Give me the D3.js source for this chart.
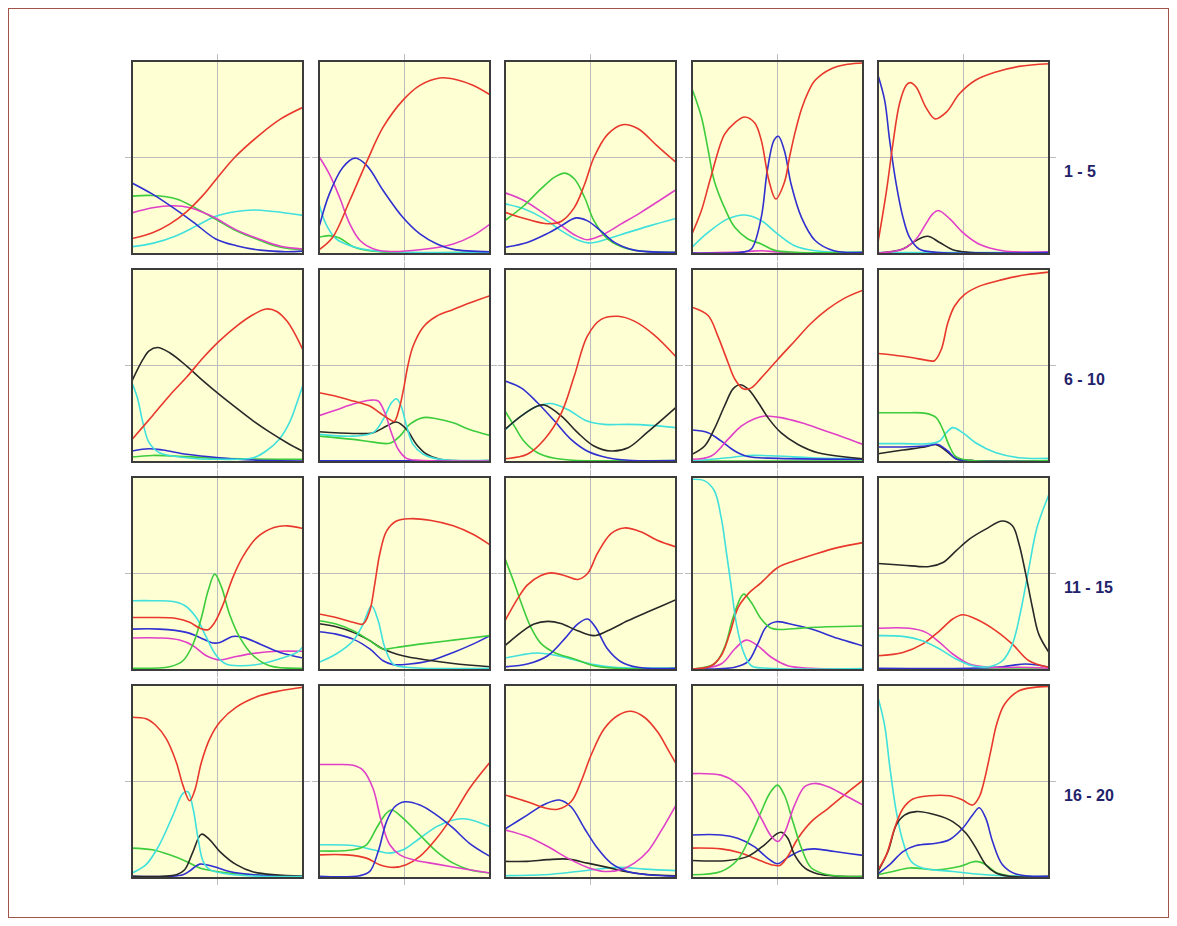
<!DOCTYPE html>
<html>
<head>
<meta charset="utf-8">
<script src="https://cdn.jsdelivr.net/npm/d3@7"></script>
<style>
  html, body { margin: 0; padding: 0; background: #ffffff; }
  svg { display: block; }
</style>
</head>
<body>
<svg id="chart" width="1177" height="926"></svg>
<script>
// Series colours, keyed by name
const seriesNames  = ["red", "green", "blue", "magenta", "cyan", "black"];
const seriesColors = ["#e8382c", "#3ccc3c", "#3030d0", "#e040c8", "#40e0dc", "#282828"];

// Row labels on the right
const rowLabels = ["1 - 5", "6 - 10", "11 - 15", "16 - 20"];

// Each panel: list of [series, [[x, y], ...]] with x and y on a 0..100 scale
const panel01 = [
  ["cyan",    [[0,3.8],[12,5.5],[26,9.5],[38,14.7],[49,19.5],[61,22],[71,22.8],[83,22],[100,20]]],
  ["green",   [[0,30],[12,30.3],[26,28.5],[38,23.4],[49,18],[61,12],[75,7],[87,3.5],[100,2.2]]],
  ["magenta", [[0,21.3],[12,24],[24,25],[34,24],[43.5,20.8],[49,18.5],[61,12.5],[75,7.5],[87,4],[100,2.6]]],
  ["blue",    [[0,36.8],[12,31],[24,24],[36,16.4],[49,7.8],[61,4.3],[75,2],[90,1.2],[100,1.5]]],
  ["red",     [[0,8],[12,11],[22,15.5],[32,22],[41.6,30.5],[49,38.5],[60,50],[75,62],[87,70],[100,76]]]
];
const panel02 = [
  ["green",   [[0,8.7],[6,9.5],[12,8.3],[20,3.8],[32,1.4],[100,1]]],
  ["cyan",    [[0,26],[4,15.6],[10,7.8],[20,3.8],[32,1.7],[100,0.9]]],
  ["magenta", [[0,50.5],[6,41.5],[12,29.4],[18,15.6],[24,7],[32,2.6],[39.5,1.4],[59,2.2],[78.5,5.2],[90,9.5],[100,15.5]]],
  ["blue",    [[0,13.8],[6,31],[14,45],[21,49.7],[28,45.8],[37.5,32.9],[49,19],[59,10.4],[69,5.2],[78.5,2.4],[100,1.2]]],
  ["red",     [[0,2.2],[8,8.7],[18,27.7],[28,48],[37.5,65.7],[49,79.6],[59,87.4],[70.7,91.2],[80.5,90.3],[90,87.4],[100,82.5]]]
];
const panel03 = [
  ["cyan",    [[0,26],[11,23.4],[23,18.2],[33,12],[42.5,7.3],[50,5.7],[60,7.8],[72,11.2],[85,14.7],[100,18.4]]],
  ["magenta", [[0,31.7],[11,27.7],[23,20.8],[33,14.7],[40.5,10],[48,7.4],[56,9.5],[68,15.6],[79.5,21.6],[100,33.3]]],
  ["green",   [[0,17.3],[11,25],[21,33.7],[29,39.8],[35,41.9],[40.5,39],[46.5,29.4],[52,17.3],[60,7.8],[72,2.6],[100,0.9]]],
  ["blue",    [[0,3.5],[13,6],[25,10.7],[33,14.7],[41.5,18.7],[48,17.3],[56,12],[64,6],[75.6,2],[100,0.9]]],
  ["red",     [[0,21.6],[13,18],[25,15.7],[33,17],[40.5,24],[46.5,36],[52,50],[60,62],[68.8,67],[77.6,65],[89,56],[100,47.5]]]
];
const panel04 = [
  ["magenta", [[0,0.5],[30.8,1.2],[40.5,1.7],[52,0.9],[100,0.5]]],
  ["cyan",    [[0,3.5],[9.4,11.2],[21,18.2],[30.8,20.2],[40.5,17.3],[50,10.4],[60,4.3],[72,1.7],[100,0.9]]],
  ["green",   [[0,85.6],[5.5,71],[9.4,54],[13,38],[19,24],[25,13.8],[32.7,7.8],[40.5,5.2],[48,2],[60,0.9],[100,0.9]]],
  ["blue",    [[0,0.5],[29,0.9],[34.7,2.6],[40.5,19],[44,43],[48,59],[50.5,61],[54,53.6],[58,36],[64,19],[72,7],[83,1.7],[100,0.9]]],
  ["red",     [[0,10.4],[5.5,22.5],[11,39.8],[19,62],[25,68],[30.8,71],[36.6,68],[40.5,59],[45,38],[49,28.5],[54,37],[57,50],[60,62],[64,75],[68,84],[72,90],[81.5,96],[91,98.3],[100,99]]]
];
const panel05 = [
  ["green",   [[0,0.4],[100,0.4]]],
  ["cyan",    [[0,0.8],[100,0.8]]],
  ["black",   [[0,0.5],[14.6,2.6],[22.3,7],[29,9.2],[36,6],[43.7,2.2],[53,0.9],[100,0.5]]],
  ["magenta", [[0,0.5],[14.6,2.6],[22.3,7.8],[28,15.6],[32,20.8],[35.3,22.5],[42,18.2],[49.5,11.2],[59,5.2],[73,1.7],[100,1.2]]],
  ["blue",    [[0,92.6],[3.9,79.6],[6.8,59],[10.7,36],[14.6,19],[18.4,8.7],[24,2.6],[34,0.9],[100,0.7]]],
  ["red",     [[0,6],[5,33],[8.7,57],[12.6,78],[16.5,87.4],[18.8,88.8],[22.3,86.5],[28,76],[33.4,70],[40,73.5],[47.6,83],[57,90],[69,94.3],[82.5,97.2],[100,98.6]]]
];
const panel06 = [
  ["green",   [[0,2.6],[12,3.4],[32,2.8],[51,1.9],[100,1.4]]],
  ["blue",    [[0,5.7],[10,6.9],[18,6.2],[32,4],[51,2.2],[71,1],[100,0.5]]],
  ["cyan",    [[0,41],[3.3,32.8],[6.3,20.7],[10,10],[16,4.8],[32,2.2],[51,1.4],[71,2.2],[78.4,5.7],[86,11.7],[92,20.3],[96,29.5],[100,40]]],
  ["black",   [[0,42],[6.3,53],[10,57.6],[15,59.3],[22,56.6],[32,49.7],[41.6,42],[51,35],[61,28],[71,21.2],[81,15.2],[90.6,10],[100,5.5]]],
  ["red",     [[0,11.7],[12,24],[22,34.5],[32,44],[41.6,54],[51,62.6],[61,70.3],[71,76.4],[78.4,79.3],[84.7,78],[90.6,73],[95.5,66],[100,58]]]
];
const panel07 = [
  ["blue",    [[0,0.6],[100,0.6]]],
  ["green",   [[0,13.4],[20,11.7],[31.6,10.3],[41.4,9.7],[47.3,13.4],[53,19.5],[61,23],[68.7,22.4],[78.5,20.3],[88,16.9],[100,13.8]]],
  ["black",   [[0,15.7],[20,14.8],[31.6,15.2],[39.5,18.6],[45.3,20.7],[51.2,16.9],[57,9.1],[63,4],[70.7,1.4],[100,0.7]]],
  ["cyan",    [[0,14.3],[20,13.4],[31.6,15.2],[37.5,22],[42.4,30.7],[45.3,32.8],[48,29],[51.2,18.6],[55,9.1],[61,4],[70.7,1.4],[100,0.9]]],
  ["magenta", [[0,24],[10,27],[20,30],[29.7,32],[34.6,31.6],[38.5,25.5],[42.4,15],[46.3,6.6],[51.2,1.9],[59,0.9],[100,0.5]]],
  ["red",     [[0,35.9],[10,34.1],[20,31.6],[29.7,29],[35.5,25.5],[41.4,22],[44,21],[47,28],[49.5,38],[52,50],[55,60],[61,70],[68.7,75.5],[78.5,79],[88,82.4],[100,86.2]]]
];
const panel08 = [
  ["green",   [[0,26.4],[5.5,18.6],[11,10.9],[19,4.8],[29,1.9],[40,0.9],[100,0.7]]],
  ["cyan",    [[0,16.6],[9.4,23.8],[19,29],[27,30.3],[36.6,27.2],[48,21.2],[58,19.5],[72,19.5],[85,19],[100,17.8]]],
  ["blue",    [[0,41.9],[9.4,38.4],[19,30.7],[29,21.2],[38.6,11.7],[48,5.7],[60,2.2],[72,0.9],[100,0.7]]],
  ["black",   [[0,16.9],[9.4,23.8],[19,29],[23,29.5],[33,23.8],[42.5,15.2],[52,8.3],[62,5.7],[72,7.4],[83,15.2],[100,28.3]]],
  ["red",     [[0,1.7],[13,4],[23,11.7],[33,25.5],[40.5,44.5],[48,65],[56,73.8],[66,75.5],[75.6,73],[87,66],[100,54.5]]]
];
const panel09 = [
  ["green",   [[0,0.5],[100,0.5]]],
  ["cyan",    [[0,0.5],[21,2.2],[32.7,3.4],[50,3.1],[69.8,2.2],[100,1.7]]],
  ["blue",    [[0,16.6],[9.4,15.2],[17,10.9],[25,5.7],[32.7,2.8],[50,1.9],[100,1.4]]],
  ["magenta", [[0,1.4],[11.3,3.1],[21,11.7],[28.8,18.6],[36.6,22.4],[42.4,23.8],[52,23],[64,20.3],[75.6,16.9],[87,13.4],[100,9.1]]],
  ["black",   [[0,4],[7.4,8.3],[13,17],[19,29],[24,37.9],[28,40],[32.7,37.9],[38.6,31],[44.4,23],[52,15.2],[62,9.1],[73.7,4.8],[100,1.7]]],
  ["red",     [[0,80.2],[9.4,75.9],[15,65.5],[21,51.7],[25,43],[30,37.9],[34.7,38.4],[40.5,43.6],[50,53],[60,62.6],[69.8,72],[79.5,79.3],[89,84.8],[100,89]]]
];
const panel10 = [
  ["black",   [[0,4.3],[14.6,6.2],[28,7.9],[34,9],[40,5.7],[45.6,1.7],[55,0.7],[100,0.5]]],
  ["blue",    [[0,7.8],[14.6,7.8],[28,8.3],[35,9.1],[40.8,5.7],[45.6,1.7],[55,0.7],[100,0.5]]],
  ["cyan",    [[0,9.5],[14.6,9.5],[30,9.5],[36,10.9],[40,15.2],[43.7,17.8],[49.5,15.2],[57,10],[69,4.8],[82.5,2.2],[100,1.9]]],
  ["green",   [[0,25.5],[14.6,25.5],[28,25.2],[34,23],[37.9,16.9],[41.7,8.3],[45.6,2.8],[53.4,0.9],[100,0.7]]],
  ["red",     [[0,56.2],[10.7,55.2],[20.4,54],[28,52.8],[33,52.5],[37,58.3],[40.8,72],[44.7,80.7],[50.5,86.7],[59,91],[72.8,94.5],[86.4,97],[100,98.4]]]
];
const panel11 = [
  ["magenta", [[0,16.6],[16,16.6],[27.8,15.5],[35.7,12.6],[43.5,7.4],[51.4,5.2],[59,6.6],[71,8.6],[85,9.7],[100,9.7]]],
  ["blue",    [[0,21.2],[16,21.2],[31.8,19.5],[39.6,16.9],[47.5,14],[51.4,14.3],[59,17.4],[65,16.9],[75,13.4],[86.6,9.1],[100,6.2]]],
  ["cyan",    [[0,35.9],[12,35.9],[24,35.5],[31,33.3],[37.6,27.2],[43.5,16.9],[49.4,7.4],[55,3.1],[63,2.2],[75,3.1],[86,5.7],[96.5,9.1],[100,12]]],
  ["green",   [[0,0.9],[22,1.7],[29.8,4.8],[35.7,13.4],[40.6,27.2],[44.5,41],[48.4,49.7],[52.4,42.8],[57,29],[63,16.9],[71,7.4],[80.4,2.2],[100,0.9]]],
  ["red",     [[0,27.2],[12,27.2],[26,26.7],[33.7,24.7],[39.6,21.7],[44.5,20.9],[48.4,24.7],[53.3,34],[59,48],[65,59],[73,68.6],[83,73.8],[90.6,74.7],[100,73.3]]]
];
const panel12 = [
  ["blue",    [[0,19.8],[10,18.6],[20,16],[29.7,10.9],[37.5,4.8],[43.4,2.8],[53,3.1],[64.8,4.8],[78.5,9.1],[90,13.4],[100,17.8]]],
  ["black",   [[0,24],[10,22.4],[20,19.5],[29.7,15.2],[37.5,10.9],[49,7.4],[63,5.2],[78.5,3.4],[100,1.7]]],
  ["green",   [[0,25.5],[10,23.8],[20,20.3],[29.7,15.2],[37.5,10.9],[45.3,11.7],[59,13.4],[78.5,15.5],[100,17.8]]],
  ["cyan",    [[0,4],[10,8.3],[20,15.2],[25.8,23.8],[30.7,33.3],[34.6,25.5],[38.5,11.7],[43.4,3.1],[51,1.4],[100,0.9]]],
  ["red",     [[0,29],[10,27.2],[20,24.7],[25.8,23.8],[29.7,30.7],[32.6,44.5],[35.5,60],[39.5,72],[45.3,77.2],[53,78.4],[64.8,77.6],[78.5,74.7],[90,70.3],[100,64.8]]]
];
const panel13 = [
  ["cyan",    [[0,6.2],[9.4,7.8],[19,8.8],[30.8,7.4],[42.5,4.8],[52,2.8],[64,1.4],[100,1]]],
  ["green",   [[0,57.8],[5.5,44.8],[10.3,32.8],[15,22.4],[21,13.8],[28.8,9.1],[40.5,5.7],[52,2.2],[64,0.9],[100,0.7]]],
  ["blue",    [[0,1.7],[13,3.1],[25,7.4],[34.7,16],[42.5,23.8],[48.3,26.4],[53,22],[60,10.9],[67.8,4.3],[77.6,1.4],[100,0.9]]],
  ["black",   [[0,12.6],[9.4,19.5],[17,23.8],[25,25.2],[32.7,24.1],[42.5,20.3],[52,17.8],[60,20.3],[71.7,25.5],[85,30.7],[100,36.4]]],
  ["red",     [[0,25.5],[7.4,37],[13,44],[21,49],[27,50.3],[34.7,49],[42.5,46.9],[48.3,50],[54,60.3],[62,70.7],[69.8,73.6],[79.5,71.6],[89,67.2],[100,63.8]]]
];
const panel14 = [
  ["magenta", [[0,0.5],[17,3.1],[25,10.9],[31.6,15.5],[38.4,12.6],[46.4,6.6],[56,2.2],[70,0.9],[100,0.5]]],
  ["blue",    [[0,0.5],[25,1.4],[32.7,4.3],[38.4,13.4],[43.5,22.4],[49.3,25],[60,23.3],[71.7,20.7],[85,16.4],[100,12.4]]],
  ["green",   [[0,0.5],[13,3.1],[19,11.7],[24,27.2],[29,38.4],[30.5,39.3],[34.7,35],[40.5,26.4],[46.4,21.6],[52,21],[64,21.7],[79.5,22.4],[100,22.8]]],
  ["red",     [[0,0.5],[11.3,2.2],[17,7.4],[22,18.6],[27,32.4],[32.7,39.3],[40.5,45.3],[50,53],[60,56.6],[71.7,60],[85,63.4],[100,66]]],
  ["cyan",    [[0,98.8],[7.4,98],[13,93],[17,79.3],[20,61.7],[23,42.8],[26,23.8],[29.8,10],[34.7,2.2],[45,0.9],[100,0.7]]]
];
const panel15 = [
  ["green",   [[0,0.5],[100,0.5]]],
  ["blue",    [[0,0.9],[53.4,0.9],[72.8,1.7],[86.4,3.1],[100,1.4]]],
  ["magenta", [[0,21.6],[18.4,21.6],[28,19.5],[36,14.3],[43.7,8.3],[53.4,3.1],[65,1.4],[82.5,1.4],[100,0.9]]],
  ["red",     [[0,7.4],[14.6,9.1],[26,13.4],[36,20.3],[43.7,26.4],[49.5,28.6],[57.3,26.4],[69,20.3],[78.6,13.4],[88.3,4.8],[100,1.4]]],
  ["cyan",    [[0,17.8],[14.6,17.4],[26,15.2],[36,10.9],[45.6,5.7],[55.3,2.2],[65,1.7],[72.8,4.8],[78.6,13.4],[83.5,30.7],[88.3,53],[93,73.8],[100,91]]],
  ["black",   [[0,55.2],[14.6,54.3],[30,53.6],[38,55.7],[45.6,61.7],[53.4,67.8],[63,73],[72.8,77.2],[78.6,74.7],[82.5,65.2],[86.4,49.7],[90.3,32.4],[94,18.6],[100,9.1]]]
];
const panel16 = [
  ["green",   [[0,15.5],[12,14.6],[22,12],[31.8,8.6],[39.6,5.2],[49.4,3.4],[61,2.2],[100,0.9]]],
  ["blue",    [[0,0.9],[29.8,1.7],[34.7,4.3],[39.6,7.2],[47.5,6],[57,3.4],[71,1.7],[100,0.7]]],
  ["black",   [[0,0.9],[25.9,1.7],[30.8,4.3],[35.7,13.7],[40.6,22.7],[45.5,19.8],[51.4,13.7],[61,6.9],[71,3.1],[100,0.9]]],
  ["cyan",    [[0,2.6],[8.2,6.9],[16,17.2],[24,32.6],[29.8,43.8],[32.7,44.7],[35.7,36],[38.6,20.6],[41.6,8.6],[45.5,4.3],[55,2.2],[70,1],[100,0.7]]],
  ["red",     [[0,83.3],[8.2,82.5],[14,79],[20,72.2],[25.9,60],[29.8,48],[33.7,40],[36.7,45.4],[40.6,60],[45.5,72.2],[51.4,80.8],[61,88.5],[75,94.5],[86.7,97],[100,98.8]]]
];
const panel17 = [
  ["cyan",    [[0,17.2],[20,16.8],[31.6,14.6],[41.4,12.9],[49.2,14.6],[59,20.6],[68.8,26.6],[78.5,30.1],[86.3,30.6],[100,26.6]]],
  ["green",   [[0,14],[20,14.6],[27.7,17.2],[33.6,25.8],[38.5,32.6],[42.4,35.2],[49.2,30.9],[59,22.3],[68.8,13.7],[78.5,7.7],[88,4.3],[100,2.6]]],
  ["red",     [[0,12],[16,12],[27.7,10.3],[35.5,6.9],[43.4,5.5],[51,6.9],[59,11.2],[68.8,20.6],[78.5,32.6],[88,46.4],[100,60]]],
  ["magenta", [[0,58.8],[10,58.8],[20,58.4],[25.8,55.8],[31.6,46.4],[36.5,29.2],[41.4,17.2],[47.3,12],[55,9.5],[68.8,7.2],[84.4,4.8],[100,2.6]]],
  ["blue",    [[0,0.9],[23.8,1.2],[29.7,3.4],[34.6,13.7],[39.5,29.2],[44.3,36.9],[50.2,39.5],[59,37.8],[68.8,32.6],[78.5,25.8],[88,18],[100,11.2]]]
];
const panel18 = [
  ["cyan",    [[0,1.2],[23,1.7],[42.5,3.4],[56,4.8],[67.8,5.5],[81.5,4.6],[100,3.8]]],
  ["black",   [[0,8.6],[13,8.6],[25,9.5],[36.6,9.8],[48.3,7.7],[60,5.5],[71.7,3.1],[85,1.7],[100,1.2]]],
  ["magenta", [[0,24.9],[13,21.5],[25,16.3],[36.6,10.3],[48.3,5.5],[58,3.4],[67.8,4.3],[75.6,7.7],[83.4,13.7],[91,24],[100,37.8]]],
  ["blue",    [[0,25.4],[13,32.6],[23,38.1],[31.8,40.4],[38.6,36.9],[46.4,25.8],[54,15.5],[62,7.7],[71.7,3.4],[83.4,1.7],[100,0.9]]],
  ["red",     [[0,43],[13,39.5],[23,36.4],[30.8,35.6],[38.6,39.5],[44.4,49.8],[50.3,63.6],[58,77.3],[66,84.2],[73.7,86.4],[81.5,83.3],[89.3,75.6],[95,67],[100,59.3]]]
];
const panel19 = [
  ["blue",    [[0,22.3],[17,22.3],[26.7,20.6],[36.4,16.3],[44.2,10.3],[50,7.4],[56,10.7],[64,14.3],[71.7,15.1],[83.4,13.7],[100,11.7]]],
  ["red",     [[0,15.5],[17,15.1],[28.6,12.9],[38.6,9.5],[46.4,6.9],[51.3,6.5],[56,11.2],[62,20.6],[69.8,29.2],[79.5,36],[89,43],[100,50.7]]],
  ["black",   [[0,9.1],[21,9.1],[32.7,11.2],[42.4,17.2],[49.3,22.7],[52.2,23.7],[56,20.6],[60,12],[65.9,5.2],[73.7,2.1],[100,0.7]]],
  ["green",   [[0,1.7],[17,3.4],[26.7,9.5],[34.5,22.3],[40.5,34.4],[45.4,43.8],[50,48.1],[54,43],[59,29.2],[64,15.5],[69.8,5.2],[79.5,1.7],[100,0.7]]],
  ["magenta", [[0,54.1],[17,53.3],[25,49.8],[32.7,43],[40.5,30.9],[46.4,21.5],[50.3,18.9],[54,23.2],[60,37.8],[65.9,47.3],[71.7,49],[79.5,47.3],[89,43],[100,37.8]]]
];
const panel20 = [
  ["green",   [[0,1.7],[8.7,3.4],[18.4,5.2],[34,4.3],[47.6,6],[57.3,8.6],[63,6.9],[69,2.9],[76.7,1.2],[100,0.7]]],
  ["cyan",    [[0,93.6],[3.9,79],[6.8,58.4],[10.7,34.4],[14.6,18.9],[19.4,8.6],[26,5.2],[43.7,3.4],[57.3,2.1],[72.8,1.2],[100,0.7]]],
  ["black",   [[0,3.4],[5.8,13.7],[10.7,27.5],[15.5,32.6],[22.3,34.4],[34,32.6],[43.7,29.2],[51.5,23.2],[57.3,15.5],[63,6.9],[69,2.6],[76.7,0.9],[100,0.7]]],
  ["blue",    [[0,2.2],[6.8,6.9],[14.6,13.7],[22.3,16.8],[34,18],[41.7,19.8],[49.5,25.8],[55.3,32.6],[59.2,36.4],[63,31],[67,18.9],[72.8,6.9],[80.6,2.1],[100,0.9]]],
  ["red",     [[0,4.3],[4.9,12],[9.7,25.8],[14.6,36],[20.4,40.9],[30,42.6],[41.7,42.6],[49.5,40.4],[55.3,37.8],[59.2,42],[62,50],[66,66],[69.5,80],[74,90],[82.5,97],[100,99.3]]]
];

const panels = [panel01, panel02, panel03, panel04, panel05,
                panel06, panel07, panel08, panel09, panel10,
                panel11, panel12, panel13, panel14, panel15,
                panel16, panel17, panel18, panel19, panel20];

// Layout
const W = 1177, H = 926;
const nCols = 5;
const panelLeft0 = 132, colStep = 186.6, panelW = 171;
const panelTop0 = 61, rowStep = 208, panelH = 193;
const gridExt = 7;

const colorOf = d3.scaleOrdinal().domain(seriesNames).range(seriesColors);

const svg = d3.select("#chart");

// Outer frame
svg.append("rect")
  .attr("x", 8.5).attr("y", 8.5)
  .attr("width", W - 17).attr("height", H - 17)
  .attr("fill", "none")
  .attr("stroke", "#a0544a")
  .attr("stroke-width", 1);

const defs = svg.append("defs");

panels.forEach((series, i) => {
  const col = i % nCols, row = Math.floor(i / nCols);
  const x0 = Math.round(panelLeft0 + col * colStep);
  const y0 = panelTop0 + row * rowStep;

  const x = d3.scaleLinear().domain([0, 100]).range([x0, x0 + panelW]);
  const y = d3.scaleLinear().domain([0, 100]).range([y0 + panelH, y0]);

  const g = svg.append("g").attr("class", "panel");

  g.append("rect")
    .attr("x", x0).attr("y", y0)
    .attr("width", panelW).attr("height", panelH)
    .attr("fill", "#ffffd4");

  // Centre cross lines, slightly overhanging the frame
  g.append("line")
    .attr("x1", x(50)).attr("x2", x(50))
    .attr("y1", y0 - gridExt).attr("y2", y0 + panelH + gridExt)
    .attr("stroke", "#bcbcbc").attr("stroke-width", 1);
  g.append("line")
    .attr("x1", x0 - gridExt).attr("x2", x0 + panelW + gridExt)
    .attr("y1", y(50)).attr("y2", y(50))
    .attr("stroke", "#bcbcbc").attr("stroke-width", 1);

  const clipId = "clip" + i;
  defs.append("clipPath").attr("id", clipId)
    .append("rect")
    .attr("x", x0).attr("y", y0)
    .attr("width", panelW).attr("height", panelH);

  const line = d3.line()
    .x(d => x(d[0]))
    .y(d => y(d[1]))
    .curve(d3.curveCatmullRom.alpha(0.5));

  g.append("g").attr("clip-path", `url(#${clipId})`)
    .selectAll("path")
    .data(series)
    .join("path")
    .attr("d", d => line(d[1]))
    .attr("fill", "none")
    .attr("stroke", d => colorOf(d[0]))
    .attr("stroke-width", 1.6)
    .attr("stroke-linejoin", "round");

  g.append("rect")
    .attr("x", x0).attr("y", y0)
    .attr("width", panelW).attr("height", panelH)
    .attr("fill", "none")
    .attr("stroke", "#3c3c3c")
    .attr("stroke-width", 2);
});

// Row labels
svg.selectAll("text.rowlabel")
  .data(rowLabels)
  .join("text")
  .attr("class", "rowlabel")
  .attr("x", 1064)
  .attr("y", (d, r) => panelTop0 + r * rowStep + panelH / 2 + 19)
  .attr("font-family", "Arial, 'Liberation Sans', sans-serif")
  .attr("font-size", 16)
  .attr("font-weight", "bold")
  .attr("fill", "#22226a")
  .text(d => d);
</script>
</body>
</html>
